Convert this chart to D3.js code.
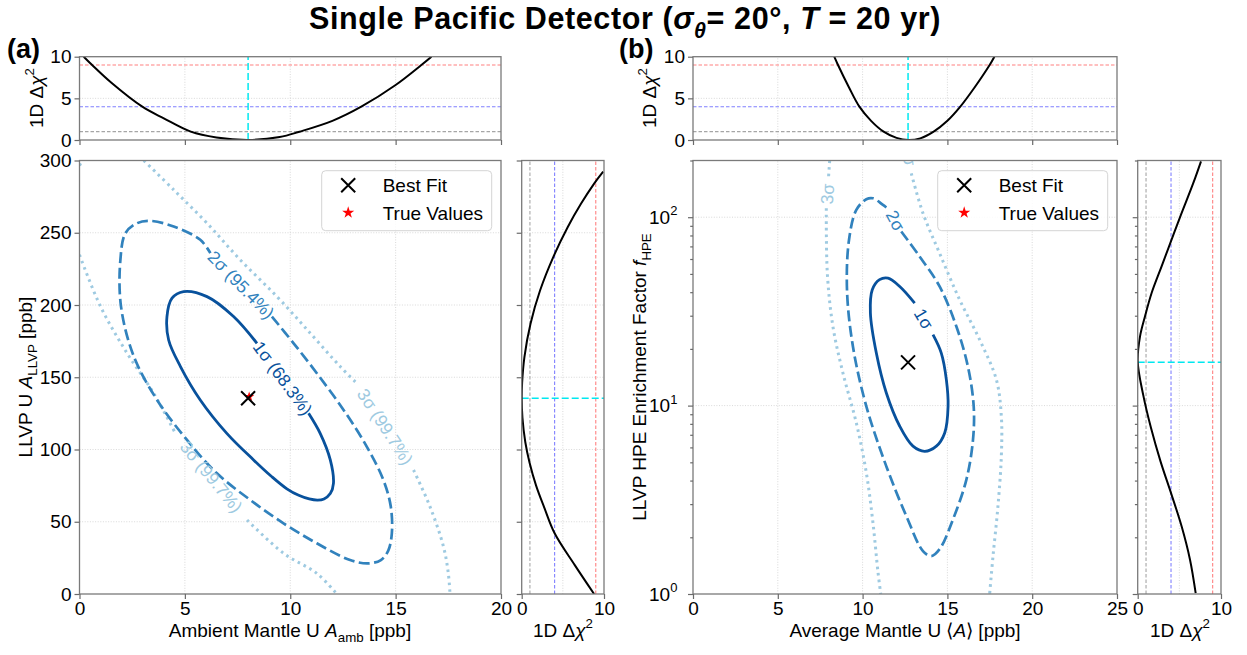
<!DOCTYPE html>
<html>
<head>
<meta charset="utf-8">
<script src="https://cdnjs.cloudflare.com/ajax/libs/d3/7.8.5/d3.min.js"></script>
<style>
  body { margin: 0; background: #fff; }
  svg { font-family: "Liberation Sans", Arial, sans-serif; }
</style>
</head>
<body>
<svg id="chart" width="1247" height="655"></svg>
<script>
// ---------- data ----------
// panel (a): ambient mantle U vs LLVP U
var ticksAmb = [0, 5, 10, 15, 20];
var ticksLLVP = [0, 50, 100, 150, 200, 250, 300];
var ticksChi = [0, 5, 10];
var ticksChiSide = [0, 10];
var chiLevels = [1, 4, 9];

var bestA = [8.0, 135.5];
var trueA = [8.05, 136.5];

// 1D profiles [param, delta chi2]
var profAmb = [[0.2,10],[0.6,9],[1.5,6.9],[2.98,4],[4,2.6],[5.28,1],[6.5,0.3],[8,0],[9.5,0.35],[10.44,1],[12,2.3],[13.37,4],[15,6.6],[16.22,9],[16.7,10]];
var profLLVP = [[0,8.8],[20,6.45],[42,4.0],[60,2.73],[75,1.75],[91,0.95],[105,0.44],[122,0.09],[135.4,0],[146,0.05],[164,0.33],[187,1.07],[210,2.23],[234,3.9],[254,5.6],[270,7.2],[284,8.8],[292.3,9.9]];

// contours [A_amb, A_LLVP]; each is an open path, the gap holds the label
var sig1A = [[10.87,125.1],[11.42,111.2],[11.9,92.8],[12.05,76.6],[11.9,69.5],[11.6,65.8],[11.3,65.0],[10.9,65.8],[10.4,68.3],[9.84,72.8],[9.1,81.5],[8.26,92.8],[6.99,111.2],[5.73,134.3],[4.79,157.4],[4.23,175.8],[4.15,192],[4.39,204.7],[4.94,209.3],[6.05,205.8],[7.31,192],[8.42,173.5]];
var sig2A = [[9.13,192],[10.16,173.5],[11.26,152.8],[12.53,127.4],[13.63,102],[14.42,78.9],[14.77,60.5],[14.82,42],[14.65,30],[14.3,23.5],[13.7,21.2],[12.84,23.5],[11.26,35.1],[9.68,48.9],[8.1,65.1],[6.52,83.5],[5.1,106.6],[3.68,134.3],[2.58,164.3],[1.97,198.9],[1.94,231.2],[2.18,249.7],[2.73,256.6],[3.36,258.2],[4.47,254.3],[5.73,245.1],[6.21,235.9]];
var sig3A_corner = [[0,296.5],[0.12,300]];
var sig3A_low1 = [[0,234.7],[1.0,198.9],[2.26,166.6],[3.52,138.9],[4.55,111.2]];
var sig3A_low2 = [[7.95,51.2],[9.68,28.2],[11.26,14.3],[12.21,0]];
var sig3A_up1 = [[3.05,300],[4.47,279.7],[6.05,256.6],[7.63,231.2],[9.37,205.8],[10.95,180.5],[12.37,157.4],[13.16,145.8]];
var sig3A_up2 = [[15.85,85.8],[16.63,60.5],[17.27,32.8],[17.5,14.3],[17.58,0]];

// panel (b): average mantle U vs HPE enrichment factor
var ticksAvg = [0, 5, 10, 15, 20, 25];
var decadesF = [1, 10, 100];
var minorF = [2,3,4,5,6,7,8,9,20,30,40,50,60,70,80,90,200];

var bestB = [12.68, 16.97];
var trueB = [];   // no true-value star visible inside panel (b)

var profAvg = [[8.33,10],[8.55,9],[9.2,6.3],[9.81,4],[10.5,2.3],[11.24,1],[12,0.25],[12.7,0],[13.4,0.2],[14.19,1],[15,2.3],[15.76,4],[16.6,6.3],[17.49,9],[17.77,10]];
var profF = [[1.01,6.96],[1.52,6.28],[2.28,5.28],[3.37,4.06],[5.06,2.74],[7.6,1.6],[11.4,0.66],[17.2,0],[23.3,0.28],[29.8,0.88],[39.7,1.68],[55,2.88],[74.7,4.0],[101,5.12],[152,6.68],[198,7.6]];

var sig1B = [[14.15,23.8],[14.64,19],[14.94,13.7],[15.04,9.92],[14.84,7.16],[14.35,6.09],[13.66,5.72],[12.97,6.09],[12.19,7.77],[11.4,11.67],[10.81,19],[10.46,31],[10.57,41.2],[11.0,46.6],[11.5,47.5],[12.19,42.9],[13.07,35]];
var sig2B = [[12.28,84],[13.36,61.9],[14.54,42.9],[15.53,26.3],[16.21,16.1],[16.55,9.92],[16.51,6.6],[16.12,4.05],[15.33,2.49],[14.54,1.73],[14.05,1.59],[13.56,1.69],[12.58,2.59],[11.4,4.76],[10.22,9.92],[9.43,20.6],[9.08,41.2],[9.2,75.9],[9.63,109.3],[10.22,124.5],[10.61,126],[11.2,116.2],[11.59,109.3]];
var sig3B_left1 = [[8.06,200],[7.98,157.8]];
var sig3B_left2 = [[7.86,111.6],[7.92,50.5],[8.25,26.3],[8.84,14.9],[9.63,8.09],[10.22,4.4],[10.61,2.39],[10.91,1.3],[11.07,1]];
var sig3B_right = [[12.87,171],[13.56,105],[14.54,64.4],[15.72,36.5],[16.9,22.4],[17.89,13.7],[18.18,8.77],[18.18,5.38],[17.98,2.92],[17.69,1.59],[17.49,1]];

// ---------- styles ----------
var col1 = "#08519c", col2 = "#3182bd", col3 = "#9ecae1";
var levelColors = ["#a6a6a6", "#8080ff", "#ff8080"];
var tickFont = 19, labelFont = 19;

var svg = d3.select("#chart");

// scales
var xA = d3.scaleLinear().domain([0, 20]).range([79.5, 501]);
var yA = d3.scaleLinear().domain([0, 300]).range([594, 160.5]);
var topChi = d3.scaleLinear().domain([0, 10]).range([140, 56.7]);
var sideA = d3.scaleLinear().domain([0, 10]).range([521.7, 604]);
var xB = d3.scaleLinear().domain([0, 25]).range([693, 1117]);
var yB = d3.scaleLog().domain([1, 200]).range([594, 160.5]);
var sideB = d3.scaleLinear().domain([0, 10]).range([1137.7, 1221]);

// ---------- helpers ----------
function panel(id, x, y) {
  var xr = x.range(), yr = y.range();
  var g = svg.append("g");
  svg.append("clipPath").attr("id", id).append("rect")
    .attr("x", xr[0]).attr("y", yr[1])
    .attr("width", xr[1] - xr[0]).attr("height", yr[0] - yr[1]);
  var grid = g.append("g");
  var inner = g.append("g").attr("clip-path", "url(#" + id + ")");
  return {g: g, grid: grid, inner: inner, x: x, y: y};
}

function frame(p) {
  var xr = p.x.range(), yr = p.y.range();
  p.g.append("rect")
    .attr("x", xr[0]).attr("y", yr[1])
    .attr("width", xr[1] - xr[0]).attr("height", yr[0] - yr[1])
    .attr("fill", "none").attr("stroke", "#7a7a7a").attr("stroke-width", 1.3);
}

function gridLines(p, xs, ys) {
  var xr = p.x.range(), yr = p.y.range();
  p.grid.selectAll(null).data(xs).enter().append("line")
    .attr("x1", d => p.x(d)).attr("x2", d => p.x(d))
    .attr("y1", yr[0]).attr("y2", yr[1]);
  p.grid.selectAll(null).data(ys).enter().append("line")
    .attr("y1", d => p.y(d)).attr("y2", d => p.y(d))
    .attr("x1", xr[0]).attr("x2", xr[1]);
  p.grid.selectAll("line").attr("stroke", "#cfcfcf").attr("stroke-width", 0.8)
    .attr("stroke-dasharray", "1,1.6");
}

function styleAxis(sel) {
  sel.attr("font-size", tickFont).attr("font-family", null);
  sel.select(".domain").remove();
  sel.selectAll(".tick line").attr("stroke", "#6a6a6a").attr("stroke-width", 1.2);
  sel.selectAll(".tick text").attr("fill", "#000");
}

function bottomAxis(p, ticks, labels) {
  var a = d3.axisBottom(p.x).tickValues(ticks).tickSize(5).tickSizeOuter(0);
  if (!labels) a.tickFormat("");
  p.g.append("g").attr("transform", "translate(0," + p.y.range()[0] + ")")
    .call(a).call(styleAxis);
}

function leftAxis(p, ticks, labels) {
  var a = d3.axisLeft(p.y).tickValues(ticks).tickSize(5).tickSizeOuter(0);
  if (!labels) a.tickFormat("");
  p.g.append("g").attr("transform", "translate(" + p.x.range()[0] + ",0)")
    .call(a).call(styleAxis);
}

function logLeftAxis(p, labels) {
  var g = p.g.append("g").attr("transform", "translate(" + p.x.range()[0] + ",0)");
  g.append("g").call(d3.axisLeft(p.y).tickValues(minorF).tickSize(2.8).tickFormat("")).call(styleAxis);
  var maj = g.append("g").call(d3.axisLeft(p.y).tickValues(decadesF).tickSize(5)
    .tickFormat(labels ? () => "10" : "")).call(styleAxis);
  if (labels) {
    maj.selectAll(".tick text").attr("dx", "-0.4em").each(function(d) {
      d3.select(this).append("tspan").attr("dy", "-0.65em").attr("font-size", 13)
        .text(Math.round(Math.log10(d)));
    });
  }
}

function rich(text, parts, size) {
  var off = 0;
  parts.forEach(function(p) {
    var ts = text.append("tspan").text(p.t);
    var target = p.sub ? size * 0.28 : (p.sup ? -size * 0.5 : 0);
    if (target !== off) { ts.attr("dy", target - off); off = target; }
    if (p.sub || p.sup) ts.attr("font-size", size * 0.7);
    if (p.i) ts.attr("font-style", "italic");
  });
  return text;
}

function refLinesTop(p) {
  p.inner.selectAll(null).data(chiLevels).enter().append("line")
    .attr("x1", p.x.range()[0]).attr("x2", p.x.range()[1])
    .attr("y1", d => p.y(d)).attr("y2", d => p.y(d))
    .attr("stroke", (d, i) => levelColors[i]).attr("stroke-width", 1.1)
    .attr("stroke-dasharray", "3.5,2");
}

function refLinesSide(p) {
  p.inner.selectAll(null).data(chiLevels).enter().append("line")
    .attr("y1", p.y.range()[0]).attr("y2", p.y.range()[1])
    .attr("x1", d => p.x(d)).attr("x2", d => p.x(d))
    .attr("stroke", (d, i) => levelColors[i]).attr("stroke-width", 1.1)
    .attr("stroke-dasharray", "3.5,2");
}

function cyanLine(p, vertical, v) {
  var l = p.inner.append("line").attr("stroke", "#00e8f0").attr("stroke-width", 1.5)
    .attr("stroke-dasharray", "7,3");
  if (vertical) l.attr("x1", p.x(v)).attr("x2", p.x(v)).attr("y1", p.y.range()[0]).attr("y2", p.y.range()[1]);
  else l.attr("y1", p.y(v)).attr("y2", p.y(v)).attr("x1", p.x.range()[0]).attr("x2", p.x.range()[1]);
}

function profileTop(p, data) {
  p.inner.append("path").datum(data)
    .attr("fill", "none").attr("stroke", "#000").attr("stroke-width", 2)
    .attr("d", d3.line().x(d => p.x(d[0])).y(d => p.y(d[1])).curve(d3.curveCatmullRom));
}

function profileSide(p, data) {
  p.inner.append("path").datum(data)
    .attr("fill", "none").attr("stroke", "#000").attr("stroke-width", 2)
    .attr("d", d3.line().x(d => p.x(d[1])).y(d => p.y(d[0])).curve(d3.curveCatmullRom));
}

function contour(p, data, color, kind) {
  var path = p.inner.append("path").datum(data)
    .attr("fill", "none").attr("stroke", color)
    .attr("d", d3.line().x(d => p.x(d[0])).y(d => p.y(d[1])).curve(d3.curveCatmullRom));
  if (kind === 1) path.attr("stroke-width", 2.8);
  if (kind === 2) path.attr("stroke-width", 2.7).attr("stroke-dasharray", "11,4.5");
  if (kind === 3) path.attr("stroke-width", 3).attr("stroke-dasharray", "2.6,4");
}

function contourLabel(p, from, to, text, color) {
  var x1 = p.x(from[0]), y1 = p.y(from[1]), x2 = p.x(to[0]), y2 = p.y(to[1]);
  var a = Math.atan2(y2 - y1, x2 - x1) * 180 / Math.PI;
  if (a > 90) a -= 180;
  if (a < -90) a += 180;
  p.inner.append("text")
    .attr("transform", "translate(" + (x1 + x2) / 2 + "," + (y1 + y2) / 2 + ") rotate(" + a + ")")
    .attr("text-anchor", "middle").attr("dy", "0.35em")
    .attr("fill", color).attr("font-size", 17.5).text(text);
}

function markers(p, best, tru) {
  if (tru.length) {
    p.inner.append("path").attr("d", d3.symbol(d3.symbolStar, 32)())
      .attr("transform", "translate(" + p.x(tru[0]) + "," + p.y(tru[1]) + ")")
      .attr("fill", "#ff0000");
  }
  p.inner.append("path").attr("d", "M-7,-7L7,7M-7,7L7,-7")
    .attr("transform", "translate(" + p.x(best[0]) + "," + p.y(best[1]) + ")")
    .attr("stroke", "#000").attr("stroke-width", 2).attr("fill", "none");
}

function legend(p) {
  var x0 = p.x.range()[1] - 179.3, y0 = p.y.range()[1] + 10.2;
  var g = p.g.append("g").attr("transform", "translate(" + x0 + "," + y0 + ")");
  g.append("rect").attr("width", 170).attr("height", 60).attr("rx", 4)
    .attr("fill", "#fff").attr("fill-opacity", 0.85)
    .attr("stroke", "#d4d4d4").attr("stroke-width", 1);
  g.append("path").attr("d", "M-7,-7L7,7M-7,7L7,-7").attr("transform", "translate(26.5,14.5)")
    .attr("stroke", "#000").attr("stroke-width", 2);
  g.append("path").attr("d", d3.symbol(d3.symbolStar, 45)()).attr("transform", "translate(26.5,42)")
    .attr("fill", "#ff0000");
  g.append("text").attr("x", 61).attr("y", 21.5).attr("font-size", labelFont).text("Best Fit");
  g.append("text").attr("x", 61).attr("y", 49.5).attr("font-size", labelFont).text("True Values");
}

var chiParts = [{t: "1D \u0394"}, {t: "\u03c7", i: true}, {t: "2", sup: true}];

// ---------- title and panel tags ----------
rich(svg.append("text").attr("x", 625).attr("y", 29).attr("text-anchor", "middle")
  .attr("font-size", 30.5).attr("font-weight", "bold").attr("letter-spacing", 0.6),
  [{t: "Single Pacific Detector ("}, {t: "\u03c3", i: true}, {t: "\u03b8", i: true, sub: true},
   {t: "= 20\u00b0, "}, {t: "T", i: true}, {t: " = 20 yr)"}], 30.5);
svg.append("text").attr("x", 7).attr("y", 58).attr("font-size", 27).attr("font-weight", "bold").text("(a)");
svg.append("text").attr("x", 619).attr("y", 58).attr("font-size", 27).attr("font-weight", "bold").text("(b)");

// ---------- panel (a) ----------
var aTop = panel("clipATop", xA, topChi);
gridLines(aTop, [5, 10, 15], [5]);
refLinesTop(aTop);
cyanLine(aTop, true, bestA[0]);
profileTop(aTop, profAmb);
frame(aTop);
bottomAxis(aTop, ticksAmb, false);
leftAxis(aTop, ticksChi, true);
rich(svg.append("text").attr("transform", "translate(43,98) rotate(-90)").attr("text-anchor", "middle")
  .attr("font-size", labelFont), chiParts, labelFont);

var aMain = panel("clipAMain", xA, yA);
gridLines(aMain, [5, 10, 15], [50, 100, 150, 200, 250]);
contour(aMain, sig3A_corner, col3, 3);
contour(aMain, sig3A_low1, col3, 3);
contour(aMain, sig3A_low2, col3, 3);
contour(aMain, sig3A_up1, col3, 3);
contour(aMain, sig3A_up2, col3, 3);
contour(aMain, sig2A, col2, 2);
contour(aMain, sig1A, col1, 1);
contourLabel(aMain, sig1A[sig1A.length - 1], sig1A[0], "1\u03c3 (68.3%)", col1);
contourLabel(aMain, sig2A[sig2A.length - 1], sig2A[0], "2\u03c3 (95.4%)", col2);
contourLabel(aMain, sig3A_low1[sig3A_low1.length - 1], sig3A_low2[0], "3\u03c3 (99.7%)", col3);
contourLabel(aMain, sig3A_up1[sig3A_up1.length - 1], sig3A_up2[0], "3\u03c3 (99.7%)", col3);
markers(aMain, bestA, trueA);
frame(aMain);
bottomAxis(aMain, ticksAmb, true);
leftAxis(aMain, ticksLLVP, true);
legend(aMain);
rich(svg.append("text").attr("x", 290).attr("y", 637).attr("text-anchor", "middle").attr("font-size", labelFont),
  [{t: "Ambient Mantle U "}, {t: "A", i: true}, {t: "amb", sub: true}, {t: " [ppb]"}], labelFont);
rich(svg.append("text").attr("transform", "translate(32,377) rotate(-90)").attr("text-anchor", "middle")
  .attr("font-size", labelFont),
  [{t: "LLVP U "}, {t: "A", i: true}, {t: "LLVP", sub: true}, {t: " [ppb]"}], labelFont);

var aSide = panel("clipASide", sideA, yA);
gridLines(aSide, [5], [50, 100, 150, 200, 250]);
refLinesSide(aSide);
cyanLine(aSide, false, bestA[1]);
profileSide(aSide, profLLVP);
frame(aSide);
bottomAxis(aSide, ticksChiSide, true);
leftAxis(aSide, ticksLLVP, false);
rich(svg.append("text").attr("x", 563).attr("y", 637).attr("text-anchor", "middle").attr("font-size", labelFont),
  chiParts, labelFont);

// ---------- panel (b) ----------
var bTop = panel("clipBTop", xB, topChi);
gridLines(bTop, [5, 10, 15, 20], [5]);
refLinesTop(bTop);
cyanLine(bTop, true, bestB[0]);
profileTop(bTop, profAvg);
frame(bTop);
bottomAxis(bTop, ticksAvg, false);
leftAxis(bTop, ticksChi, true);
rich(svg.append("text").attr("transform", "translate(656,98) rotate(-90)").attr("text-anchor", "middle")
  .attr("font-size", labelFont), chiParts, labelFont);

var bMain = panel("clipBMain", xB, yB);
gridLines(bMain, [5, 10, 15, 20], [10, 100]);
contour(bMain, sig3B_left1, col3, 3);
contour(bMain, sig3B_left2, col3, 3);
contour(bMain, sig3B_right, col3, 3);
contour(bMain, sig2B, col2, 2);
contour(bMain, sig1B, col1, 1);
contourLabel(bMain, sig1B[sig1B.length - 1], sig1B[0], "1\u03c3", col1);
contourLabel(bMain, sig2B[sig2B.length - 1], sig2B[0], "2\u03c3", col2);
contourLabel(bMain, sig3B_left1[1], sig3B_left2[0], "3\u03c3", col3);
contourLabel(bMain, [12.62, 265], sig3B_right[0], "3\u03c3", col3);
markers(bMain, bestB, trueB);
frame(bMain);
bottomAxis(bMain, ticksAvg, true);
logLeftAxis(bMain, true);
legend(bMain);
rich(svg.append("text").attr("x", 905).attr("y", 637).attr("text-anchor", "middle").attr("font-size", labelFont),
  [{t: "Average Mantle U \u27e8"}, {t: "A", i: true}, {t: "\u27e9 [ppb]"}], labelFont);
rich(svg.append("text").attr("transform", "translate(646,377) rotate(-90)").attr("text-anchor", "middle")
  .attr("font-size", labelFont),
  [{t: "LLVP HPE Enrichment Factor "}, {t: "f", i: true}, {t: "HPE", sub: true}], labelFont);

var bSide = panel("clipBSide", sideB, yB);
gridLines(bSide, [5], [10, 100]);
refLinesSide(bSide);
cyanLine(bSide, false, bestB[1]);
profileSide(bSide, profF);
frame(bSide);
bottomAxis(bSide, ticksChiSide, true);
logLeftAxis(bSide, false);
rich(svg.append("text").attr("x", 1180).attr("y", 637).attr("text-anchor", "middle").attr("font-size", labelFont),
  chiParts, labelFont);
</script>
</body>
</html>
